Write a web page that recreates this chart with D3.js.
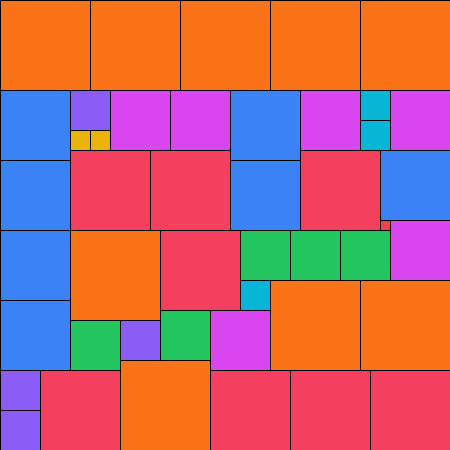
<!DOCTYPE html>
<html>
<head>
<meta charset="utf-8">
<script src="https://d3js.org/d3.v7.min.js"></script>
<style>
  body { margin: 0; background: #fff; }
  svg { display: block; }
</style>
</head>
<body>
<script>
// side length of each square, in grid units (45 x 45 grid)
const sizes = [9,9,9,9,9, 7,4,2,2,6,6,7,6,3,3,6, 7,8,8,7,8,7,1, 7,7,9,8,5,5,5,6,3,9,9,5,4,5,6, 4,4,8,9,8,8,8];
// grid column of each square's left edge
const cols  = [0,9,18,27,36, 0,7,7,9,11,17,23,30,36,36,39, 0,7,15,23,30,38,38, 0,0,7,16,24,29,34,39,24,27,36,7,12,16,21, 0,0,4,12,21,29,37];
// grid row of each square's top edge
const rows  = [0,0,0,0,0, 9,9,13,13,9,9,9,9,9,12,9, 16,15,15,16,15,15,22, 23,30,23,23,23,23,23,22,28,28,28,32,32,31,31, 37,41,37,36,37,37,37];

const colorBySize = new Map([
  [9, "#f97316"], [8, "#f43f5e"], [7, "#3b82f6"], [6, "#d946ef"], [5, "#22c55e"],
  [4, "#8b5cf6"], [3, "#06b6d4"], [2, "#eab308"], [1, "#ef4444"]
]);

const width = 450, height = 450;
const x = d3.scaleLinear().domain([0, 45]).range([0, width]);
const y = d3.scaleLinear().domain([0, 45]).range([0, height]);

const data = sizes.map((s, i) => ({size: s, col: cols[i], row: rows[i]}));

const svg = d3.select("body").append("svg")
  .attr("width", width)
  .attr("height", height);

svg.selectAll("rect")
  .data(data)
  .enter()
  .append("rect")
    .attr("x", d => x(d.col))
    .attr("y", d => y(d.row))
    .attr("width", d => x(d.size) - x(0))
    .attr("height", d => y(d.size) - y(0))
    .attr("fill", d => colorBySize.get(d.size))
    .attr("stroke", "#000")
    .attr("stroke-width", 1)
    .attr("shape-rendering", "crispEdges");
</script>
</body>
</html>
